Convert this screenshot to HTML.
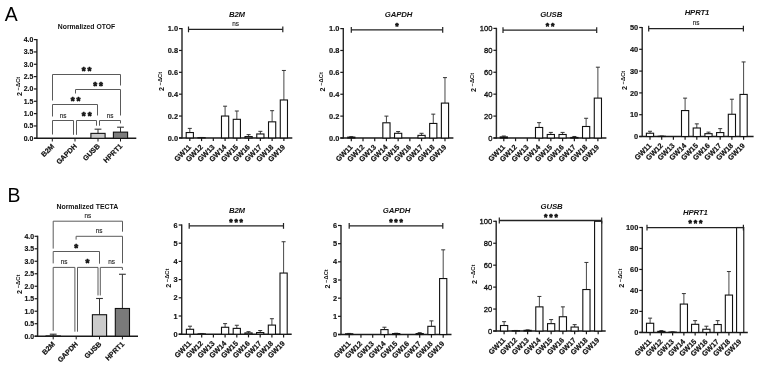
<!DOCTYPE html>
<html><head><meta charset="utf-8"><style>
html,body{margin:0;padding:0;background:#fff;width:757px;height:366px;overflow:hidden}
svg{display:block}
</style></head><body>
<svg width="757" height="366" viewBox="0 0 757 366" font-family='"Liberation Sans", Arial, sans-serif'>
<rect width="757" height="366" fill="#fff"/>
<text x="4.80" y="20.50" font-size="19.4" font-weight="normal" font-style="normal" text-anchor="start" fill="#000" >A</text>
<text x="7.60" y="201.70" font-size="19.4" font-weight="normal" font-style="normal" text-anchor="start" fill="#000" >B</text>
<line x1="182.00" y1="28.00" x2="182.00" y2="138.50" stroke="#2a2a2a" stroke-width="1.45"/>
<line x1="179.00" y1="137.90" x2="182.00" y2="137.90" stroke="#1a1a1a" stroke-width="1.2"/>
<text x="178.00" y="140.50" font-size="7.4" font-weight="bold" font-style="normal" text-anchor="end" fill="#111" stroke="#111" stroke-width="0.15">0.0</text>
<line x1="179.00" y1="116.04" x2="182.00" y2="116.04" stroke="#1a1a1a" stroke-width="1.2"/>
<text x="178.00" y="118.64" font-size="7.4" font-weight="bold" font-style="normal" text-anchor="end" fill="#111" stroke="#111" stroke-width="0.15">0.2</text>
<line x1="179.00" y1="94.18" x2="182.00" y2="94.18" stroke="#1a1a1a" stroke-width="1.2"/>
<text x="178.00" y="96.78" font-size="7.4" font-weight="bold" font-style="normal" text-anchor="end" fill="#111" stroke="#111" stroke-width="0.15">0.4</text>
<line x1="179.00" y1="72.32" x2="182.00" y2="72.32" stroke="#1a1a1a" stroke-width="1.2"/>
<text x="178.00" y="74.92" font-size="7.4" font-weight="bold" font-style="normal" text-anchor="end" fill="#111" stroke="#111" stroke-width="0.15">0.6</text>
<line x1="179.00" y1="50.46" x2="182.00" y2="50.46" stroke="#1a1a1a" stroke-width="1.2"/>
<text x="178.00" y="53.06" font-size="7.4" font-weight="bold" font-style="normal" text-anchor="end" fill="#111" stroke="#111" stroke-width="0.15">0.8</text>
<line x1="179.00" y1="28.60" x2="182.00" y2="28.60" stroke="#1a1a1a" stroke-width="1.2"/>
<text x="178.00" y="31.20" font-size="7.4" font-weight="bold" font-style="normal" text-anchor="end" fill="#111" stroke="#111" stroke-width="0.15">1.0</text>
<line x1="179.00" y1="137.90" x2="292.30" y2="137.90" stroke="#1a1a1a" stroke-width="1.5"/>
<line x1="189.80" y1="137.90" x2="189.80" y2="141.10" stroke="#1a1a1a" stroke-width="1.2"/>
<line x1="189.80" y1="128.39" x2="189.80" y2="132.54" stroke="#333" stroke-width="0.9"/>
<line x1="187.80" y1="128.39" x2="191.80" y2="128.39" stroke="#333" stroke-width="1.0"/>
<rect x="186.20" y="132.54" width="7.20" height="5.36" fill="#fff" stroke="#111" stroke-width="1.1"/>
<text transform="translate(191.60,147.60) rotate(-45)" font-size="7.3" font-weight="bold" text-anchor="end" fill="#111" stroke="#111" stroke-width="0.2">GW11</text>
<line x1="201.56" y1="137.90" x2="201.56" y2="141.10" stroke="#1a1a1a" stroke-width="1.2"/>
<line x1="201.56" y1="137.46" x2="201.56" y2="137.68" stroke="#333" stroke-width="0.9"/>
<line x1="199.56" y1="137.46" x2="203.56" y2="137.46" stroke="#333" stroke-width="1.0"/>
<rect x="197.96" y="137.68" width="7.20" height="0.22" fill="#fff" stroke="#111" stroke-width="1.1"/>
<text transform="translate(203.36,147.60) rotate(-45)" font-size="7.3" font-weight="bold" text-anchor="end" fill="#111" stroke="#111" stroke-width="0.2">GW12</text>
<line x1="213.32" y1="137.90" x2="213.32" y2="141.10" stroke="#1a1a1a" stroke-width="1.2"/>
<text transform="translate(215.12,147.60) rotate(-45)" font-size="7.3" font-weight="bold" text-anchor="end" fill="#111" stroke="#111" stroke-width="0.2">GW13</text>
<line x1="225.08" y1="137.90" x2="225.08" y2="141.10" stroke="#1a1a1a" stroke-width="1.2"/>
<line x1="225.08" y1="106.20" x2="225.08" y2="116.04" stroke="#333" stroke-width="0.9"/>
<line x1="223.08" y1="106.20" x2="227.08" y2="106.20" stroke="#333" stroke-width="1.0"/>
<rect x="221.48" y="116.04" width="7.20" height="21.86" fill="#fff" stroke="#111" stroke-width="1.1"/>
<text transform="translate(226.88,147.60) rotate(-45)" font-size="7.3" font-weight="bold" text-anchor="end" fill="#111" stroke="#111" stroke-width="0.2">GW14</text>
<line x1="236.84" y1="137.90" x2="236.84" y2="141.10" stroke="#1a1a1a" stroke-width="1.2"/>
<line x1="236.84" y1="111.01" x2="236.84" y2="119.32" stroke="#333" stroke-width="0.9"/>
<line x1="234.84" y1="111.01" x2="238.84" y2="111.01" stroke="#333" stroke-width="1.0"/>
<rect x="233.24" y="119.32" width="7.20" height="18.58" fill="#fff" stroke="#111" stroke-width="1.1"/>
<text transform="translate(238.64,147.60) rotate(-45)" font-size="7.3" font-weight="bold" text-anchor="end" fill="#111" stroke="#111" stroke-width="0.2">GW15</text>
<line x1="248.60" y1="137.90" x2="248.60" y2="141.10" stroke="#1a1a1a" stroke-width="1.2"/>
<line x1="248.60" y1="134.62" x2="248.60" y2="136.59" stroke="#333" stroke-width="0.9"/>
<line x1="246.60" y1="134.62" x2="250.60" y2="134.62" stroke="#333" stroke-width="1.0"/>
<rect x="245.00" y="136.59" width="7.20" height="1.31" fill="#fff" stroke="#111" stroke-width="1.1"/>
<text transform="translate(250.40,147.60) rotate(-45)" font-size="7.3" font-weight="bold" text-anchor="end" fill="#111" stroke="#111" stroke-width="0.2">GW16</text>
<line x1="260.36" y1="137.90" x2="260.36" y2="141.10" stroke="#1a1a1a" stroke-width="1.2"/>
<line x1="260.36" y1="131.34" x2="260.36" y2="133.97" stroke="#333" stroke-width="0.9"/>
<line x1="258.36" y1="131.34" x2="262.36" y2="131.34" stroke="#333" stroke-width="1.0"/>
<rect x="256.76" y="133.97" width="7.20" height="3.93" fill="#fff" stroke="#111" stroke-width="1.1"/>
<text transform="translate(262.16,147.60) rotate(-45)" font-size="7.3" font-weight="bold" text-anchor="end" fill="#111" stroke="#111" stroke-width="0.2">GW17</text>
<line x1="272.12" y1="137.90" x2="272.12" y2="141.10" stroke="#1a1a1a" stroke-width="1.2"/>
<line x1="272.12" y1="110.68" x2="272.12" y2="121.83" stroke="#333" stroke-width="0.9"/>
<line x1="270.12" y1="110.68" x2="274.12" y2="110.68" stroke="#333" stroke-width="1.0"/>
<rect x="268.52" y="121.83" width="7.20" height="16.07" fill="#fff" stroke="#111" stroke-width="1.1"/>
<text transform="translate(273.92,147.60) rotate(-45)" font-size="7.3" font-weight="bold" text-anchor="end" fill="#111" stroke="#111" stroke-width="0.2">GW18</text>
<line x1="283.88" y1="137.90" x2="283.88" y2="141.10" stroke="#1a1a1a" stroke-width="1.2"/>
<line x1="283.88" y1="70.46" x2="283.88" y2="99.97" stroke="#333" stroke-width="0.9"/>
<line x1="281.88" y1="70.46" x2="285.88" y2="70.46" stroke="#333" stroke-width="1.0"/>
<rect x="280.28" y="99.97" width="7.20" height="37.93" fill="#fff" stroke="#111" stroke-width="1.1"/>
<text transform="translate(285.68,147.60) rotate(-45)" font-size="7.3" font-weight="bold" text-anchor="end" fill="#111" stroke="#111" stroke-width="0.2">GW19</text>
<line x1="188.50" y1="29.40" x2="282.80" y2="29.40" stroke="#222" stroke-width="1.3"/>
<line x1="188.50" y1="26.50" x2="188.50" y2="32.30" stroke="#222" stroke-width="1.2"/>
<line x1="282.80" y1="26.50" x2="282.80" y2="32.30" stroke="#222" stroke-width="1.2"/>
<text x="235.70" y="26.40" font-size="6.4" font-weight="normal" font-style="normal" text-anchor="middle" fill="#222" stroke="#222" stroke-width="0.12">ns</text>
<text x="236.97" y="16.50" font-size="7.8" font-weight="bold" font-style="italic" text-anchor="middle" fill="#111" letter-spacing="-0.15">B2M</text>
<text transform="translate(164.40,91.10) rotate(-90)" font-size="7.2" font-weight="bold" fill="#111">2<tspan font-size="5.8" dy="-2.0" font-weight="bold"> −ΔCt</tspan></text>
<line x1="343.30" y1="28.00" x2="343.30" y2="138.60" stroke="#2a2a2a" stroke-width="1.45"/>
<line x1="340.30" y1="138.00" x2="343.30" y2="138.00" stroke="#1a1a1a" stroke-width="1.2"/>
<text x="339.30" y="140.60" font-size="7.4" font-weight="bold" font-style="normal" text-anchor="end" fill="#111" stroke="#111" stroke-width="0.15">0.0</text>
<line x1="340.30" y1="116.12" x2="343.30" y2="116.12" stroke="#1a1a1a" stroke-width="1.2"/>
<text x="339.30" y="118.72" font-size="7.4" font-weight="bold" font-style="normal" text-anchor="end" fill="#111" stroke="#111" stroke-width="0.15">0.2</text>
<line x1="340.30" y1="94.24" x2="343.30" y2="94.24" stroke="#1a1a1a" stroke-width="1.2"/>
<text x="339.30" y="96.84" font-size="7.4" font-weight="bold" font-style="normal" text-anchor="end" fill="#111" stroke="#111" stroke-width="0.15">0.4</text>
<line x1="340.30" y1="72.36" x2="343.30" y2="72.36" stroke="#1a1a1a" stroke-width="1.2"/>
<text x="339.30" y="74.96" font-size="7.4" font-weight="bold" font-style="normal" text-anchor="end" fill="#111" stroke="#111" stroke-width="0.15">0.6</text>
<line x1="340.30" y1="50.48" x2="343.30" y2="50.48" stroke="#1a1a1a" stroke-width="1.2"/>
<text x="339.30" y="53.08" font-size="7.4" font-weight="bold" font-style="normal" text-anchor="end" fill="#111" stroke="#111" stroke-width="0.15">0.8</text>
<line x1="340.30" y1="28.60" x2="343.30" y2="28.60" stroke="#1a1a1a" stroke-width="1.2"/>
<text x="339.30" y="31.20" font-size="7.4" font-weight="bold" font-style="normal" text-anchor="end" fill="#111" stroke="#111" stroke-width="0.15">1.0</text>
<line x1="340.30" y1="138.00" x2="453.40" y2="138.00" stroke="#1a1a1a" stroke-width="1.5"/>
<line x1="351.30" y1="138.00" x2="351.30" y2="141.20" stroke="#1a1a1a" stroke-width="1.2"/>
<line x1="351.30" y1="136.69" x2="351.30" y2="137.12" stroke="#333" stroke-width="0.9"/>
<line x1="349.30" y1="136.69" x2="353.30" y2="136.69" stroke="#333" stroke-width="1.0"/>
<rect x="347.70" y="137.12" width="7.20" height="0.88" fill="#fff" stroke="#111" stroke-width="1.1"/>
<text transform="translate(353.10,147.70) rotate(-45)" font-size="7.3" font-weight="bold" text-anchor="end" fill="#111" stroke="#111" stroke-width="0.2">GW11</text>
<line x1="363.01" y1="138.00" x2="363.01" y2="141.20" stroke="#1a1a1a" stroke-width="1.2"/>
<text transform="translate(364.81,147.70) rotate(-45)" font-size="7.3" font-weight="bold" text-anchor="end" fill="#111" stroke="#111" stroke-width="0.2">GW12</text>
<line x1="374.72" y1="138.00" x2="374.72" y2="141.20" stroke="#1a1a1a" stroke-width="1.2"/>
<text transform="translate(376.52,147.70) rotate(-45)" font-size="7.3" font-weight="bold" text-anchor="end" fill="#111" stroke="#111" stroke-width="0.2">GW13</text>
<line x1="386.43" y1="138.00" x2="386.43" y2="141.20" stroke="#1a1a1a" stroke-width="1.2"/>
<line x1="386.43" y1="116.12" x2="386.43" y2="122.79" stroke="#333" stroke-width="0.9"/>
<line x1="384.43" y1="116.12" x2="388.43" y2="116.12" stroke="#333" stroke-width="1.0"/>
<rect x="382.83" y="122.79" width="7.20" height="15.21" fill="#fff" stroke="#111" stroke-width="1.1"/>
<text transform="translate(388.23,147.70) rotate(-45)" font-size="7.3" font-weight="bold" text-anchor="end" fill="#111" stroke="#111" stroke-width="0.2">GW14</text>
<line x1="398.14" y1="138.00" x2="398.14" y2="141.20" stroke="#1a1a1a" stroke-width="1.2"/>
<line x1="398.14" y1="131.55" x2="398.14" y2="133.30" stroke="#333" stroke-width="0.9"/>
<line x1="396.14" y1="131.55" x2="400.14" y2="131.55" stroke="#333" stroke-width="1.0"/>
<rect x="394.54" y="133.30" width="7.20" height="4.70" fill="#fff" stroke="#111" stroke-width="1.1"/>
<text transform="translate(399.94,147.70) rotate(-45)" font-size="7.3" font-weight="bold" text-anchor="end" fill="#111" stroke="#111" stroke-width="0.2">GW15</text>
<line x1="409.85" y1="138.00" x2="409.85" y2="141.20" stroke="#1a1a1a" stroke-width="1.2"/>
<text transform="translate(411.65,147.70) rotate(-45)" font-size="7.3" font-weight="bold" text-anchor="end" fill="#111" stroke="#111" stroke-width="0.2">GW16</text>
<line x1="421.56" y1="138.00" x2="421.56" y2="141.20" stroke="#1a1a1a" stroke-width="1.2"/>
<line x1="421.56" y1="133.30" x2="421.56" y2="135.37" stroke="#333" stroke-width="0.9"/>
<line x1="419.56" y1="133.30" x2="423.56" y2="133.30" stroke="#333" stroke-width="1.0"/>
<rect x="417.96" y="135.37" width="7.20" height="2.63" fill="#fff" stroke="#111" stroke-width="1.1"/>
<text transform="translate(423.36,147.70) rotate(-45)" font-size="7.3" font-weight="bold" text-anchor="end" fill="#111" stroke="#111" stroke-width="0.2">GW17</text>
<line x1="433.27" y1="138.00" x2="433.27" y2="141.20" stroke="#1a1a1a" stroke-width="1.2"/>
<line x1="433.27" y1="114.15" x2="433.27" y2="123.45" stroke="#333" stroke-width="0.9"/>
<line x1="431.27" y1="114.15" x2="435.27" y2="114.15" stroke="#333" stroke-width="1.0"/>
<rect x="429.67" y="123.45" width="7.20" height="14.55" fill="#fff" stroke="#111" stroke-width="1.1"/>
<text transform="translate(435.07,147.70) rotate(-45)" font-size="7.3" font-weight="bold" text-anchor="end" fill="#111" stroke="#111" stroke-width="0.2">GW18</text>
<line x1="444.98" y1="138.00" x2="444.98" y2="141.20" stroke="#1a1a1a" stroke-width="1.2"/>
<line x1="444.98" y1="77.61" x2="444.98" y2="103.10" stroke="#333" stroke-width="0.9"/>
<line x1="442.98" y1="77.61" x2="446.98" y2="77.61" stroke="#333" stroke-width="1.0"/>
<rect x="441.38" y="103.10" width="7.20" height="34.90" fill="#fff" stroke="#111" stroke-width="1.1"/>
<text transform="translate(446.78,147.70) rotate(-45)" font-size="7.3" font-weight="bold" text-anchor="end" fill="#111" stroke="#111" stroke-width="0.2">GW19</text>
<line x1="351.30" y1="29.90" x2="442.70" y2="29.90" stroke="#222" stroke-width="1.3"/>
<line x1="351.30" y1="27.00" x2="351.30" y2="32.80" stroke="#222" stroke-width="1.2"/>
<line x1="442.70" y1="27.00" x2="442.70" y2="32.80" stroke="#222" stroke-width="1.2"/>
<text x="397.90" y="28.87" font-size="8.7" font-weight="bold" font-style="normal" text-anchor="middle" fill="#111" letter-spacing="1.8" stroke="#111" stroke-width="0.6" stroke-linejoin="round">*</text>
<text x="398.57" y="16.50" font-size="7.8" font-weight="bold" font-style="italic" text-anchor="middle" fill="#111" letter-spacing="-0.15">GAPDH</text>
<text transform="translate(325.40,91.40) rotate(-90)" font-size="7.2" font-weight="bold" fill="#111">2<tspan font-size="5.8" dy="-2.0" font-weight="bold"> −ΔCt</tspan></text>
<line x1="496.40" y1="27.80" x2="496.40" y2="138.60" stroke="#2a2a2a" stroke-width="1.45"/>
<line x1="493.40" y1="138.00" x2="496.40" y2="138.00" stroke="#1a1a1a" stroke-width="1.2"/>
<text x="492.40" y="140.67" font-size="7.6000000000000005" font-weight="normal" font-style="normal" text-anchor="end" fill="#111" stroke="#111" stroke-width="0.32">0</text>
<line x1="493.40" y1="116.08" x2="496.40" y2="116.08" stroke="#1a1a1a" stroke-width="1.2"/>
<text x="492.40" y="118.75" font-size="7.6000000000000005" font-weight="normal" font-style="normal" text-anchor="end" fill="#111" stroke="#111" stroke-width="0.32">20</text>
<line x1="493.40" y1="94.16" x2="496.40" y2="94.16" stroke="#1a1a1a" stroke-width="1.2"/>
<text x="492.40" y="96.83" font-size="7.6000000000000005" font-weight="normal" font-style="normal" text-anchor="end" fill="#111" stroke="#111" stroke-width="0.32">40</text>
<line x1="493.40" y1="72.24" x2="496.40" y2="72.24" stroke="#1a1a1a" stroke-width="1.2"/>
<text x="492.40" y="74.91" font-size="7.6000000000000005" font-weight="normal" font-style="normal" text-anchor="end" fill="#111" stroke="#111" stroke-width="0.32">60</text>
<line x1="493.40" y1="50.32" x2="496.40" y2="50.32" stroke="#1a1a1a" stroke-width="1.2"/>
<text x="492.40" y="52.99" font-size="7.6000000000000005" font-weight="normal" font-style="normal" text-anchor="end" fill="#111" stroke="#111" stroke-width="0.32">80</text>
<line x1="493.40" y1="28.40" x2="496.40" y2="28.40" stroke="#1a1a1a" stroke-width="1.2"/>
<text x="492.40" y="31.07" font-size="7.6000000000000005" font-weight="normal" font-style="normal" text-anchor="end" fill="#111" stroke="#111" stroke-width="0.32">100</text>
<line x1="493.40" y1="138.00" x2="606.40" y2="138.00" stroke="#1a1a1a" stroke-width="1.5"/>
<line x1="503.80" y1="138.00" x2="503.80" y2="141.20" stroke="#1a1a1a" stroke-width="1.2"/>
<line x1="503.80" y1="136.03" x2="503.80" y2="136.90" stroke="#333" stroke-width="0.9"/>
<line x1="501.80" y1="136.03" x2="505.80" y2="136.03" stroke="#333" stroke-width="1.0"/>
<rect x="500.20" y="136.90" width="7.20" height="1.10" fill="#fff" stroke="#111" stroke-width="1.1"/>
<text transform="translate(505.60,147.70) rotate(-45)" font-size="7.3" font-weight="bold" text-anchor="end" fill="#111" stroke="#111" stroke-width="0.2">GW11</text>
<line x1="515.56" y1="138.00" x2="515.56" y2="141.20" stroke="#1a1a1a" stroke-width="1.2"/>
<text transform="translate(517.36,147.70) rotate(-45)" font-size="7.3" font-weight="bold" text-anchor="end" fill="#111" stroke="#111" stroke-width="0.2">GW12</text>
<line x1="527.32" y1="138.00" x2="527.32" y2="141.20" stroke="#1a1a1a" stroke-width="1.2"/>
<text transform="translate(529.12,147.70) rotate(-45)" font-size="7.3" font-weight="bold" text-anchor="end" fill="#111" stroke="#111" stroke-width="0.2">GW13</text>
<line x1="539.08" y1="138.00" x2="539.08" y2="141.20" stroke="#1a1a1a" stroke-width="1.2"/>
<line x1="539.08" y1="122.66" x2="539.08" y2="127.48" stroke="#333" stroke-width="0.9"/>
<line x1="537.08" y1="122.66" x2="541.08" y2="122.66" stroke="#333" stroke-width="1.0"/>
<rect x="535.48" y="127.48" width="7.20" height="10.52" fill="#fff" stroke="#111" stroke-width="1.1"/>
<text transform="translate(540.88,147.70) rotate(-45)" font-size="7.3" font-weight="bold" text-anchor="end" fill="#111" stroke="#111" stroke-width="0.2">GW14</text>
<line x1="550.84" y1="138.00" x2="550.84" y2="141.20" stroke="#1a1a1a" stroke-width="1.2"/>
<line x1="550.84" y1="132.41" x2="550.84" y2="134.49" stroke="#333" stroke-width="0.9"/>
<line x1="548.84" y1="132.41" x2="552.84" y2="132.41" stroke="#333" stroke-width="1.0"/>
<rect x="547.24" y="134.49" width="7.20" height="3.51" fill="#fff" stroke="#111" stroke-width="1.1"/>
<text transform="translate(552.64,147.70) rotate(-45)" font-size="7.3" font-weight="bold" text-anchor="end" fill="#111" stroke="#111" stroke-width="0.2">GW15</text>
<line x1="562.60" y1="138.00" x2="562.60" y2="141.20" stroke="#1a1a1a" stroke-width="1.2"/>
<line x1="562.60" y1="132.41" x2="562.60" y2="134.49" stroke="#333" stroke-width="0.9"/>
<line x1="560.60" y1="132.41" x2="564.60" y2="132.41" stroke="#333" stroke-width="1.0"/>
<rect x="559.00" y="134.49" width="7.20" height="3.51" fill="#fff" stroke="#111" stroke-width="1.1"/>
<text transform="translate(564.40,147.70) rotate(-45)" font-size="7.3" font-weight="bold" text-anchor="end" fill="#111" stroke="#111" stroke-width="0.2">GW16</text>
<line x1="574.36" y1="138.00" x2="574.36" y2="141.20" stroke="#1a1a1a" stroke-width="1.2"/>
<line x1="574.36" y1="136.47" x2="574.36" y2="137.45" stroke="#333" stroke-width="0.9"/>
<line x1="572.36" y1="136.47" x2="576.36" y2="136.47" stroke="#333" stroke-width="1.0"/>
<rect x="570.76" y="137.45" width="7.20" height="0.55" fill="#fff" stroke="#111" stroke-width="1.1"/>
<text transform="translate(576.16,147.70) rotate(-45)" font-size="7.3" font-weight="bold" text-anchor="end" fill="#111" stroke="#111" stroke-width="0.2">GW17</text>
<line x1="586.12" y1="138.00" x2="586.12" y2="141.20" stroke="#1a1a1a" stroke-width="1.2"/>
<line x1="586.12" y1="118.27" x2="586.12" y2="126.49" stroke="#333" stroke-width="0.9"/>
<line x1="584.12" y1="118.27" x2="588.12" y2="118.27" stroke="#333" stroke-width="1.0"/>
<rect x="582.52" y="126.49" width="7.20" height="11.51" fill="#fff" stroke="#111" stroke-width="1.1"/>
<text transform="translate(587.92,147.70) rotate(-45)" font-size="7.3" font-weight="bold" text-anchor="end" fill="#111" stroke="#111" stroke-width="0.2">GW18</text>
<line x1="597.88" y1="138.00" x2="597.88" y2="141.20" stroke="#1a1a1a" stroke-width="1.2"/>
<line x1="597.88" y1="67.20" x2="597.88" y2="98.11" stroke="#333" stroke-width="0.9"/>
<line x1="595.88" y1="67.20" x2="599.88" y2="67.20" stroke="#333" stroke-width="1.0"/>
<rect x="594.28" y="98.11" width="7.20" height="39.89" fill="#fff" stroke="#111" stroke-width="1.1"/>
<text transform="translate(599.68,147.70) rotate(-45)" font-size="7.3" font-weight="bold" text-anchor="end" fill="#111" stroke="#111" stroke-width="0.2">GW19</text>
<line x1="503.00" y1="30.20" x2="596.70" y2="30.20" stroke="#222" stroke-width="1.3"/>
<line x1="503.00" y1="27.30" x2="503.00" y2="33.10" stroke="#222" stroke-width="1.2"/>
<line x1="596.70" y1="27.30" x2="596.70" y2="33.10" stroke="#222" stroke-width="1.2"/>
<text x="551.00" y="28.57" font-size="8.7" font-weight="bold" font-style="normal" text-anchor="middle" fill="#111" letter-spacing="1.8" stroke="#111" stroke-width="0.6" stroke-linejoin="round">**</text>
<text x="551.18" y="16.50" font-size="7.8" font-weight="bold" font-style="italic" text-anchor="middle" fill="#111" letter-spacing="-0.15">GUSB</text>
<text transform="translate(476.20,92.10) rotate(-90)" font-size="7.2" font-weight="bold" fill="#111">2<tspan font-size="5.8" dy="-2.0" font-weight="bold"> −ΔCt</tspan></text>
<line x1="642.20" y1="26.90" x2="642.20" y2="137.10" stroke="#2a2a2a" stroke-width="1.45"/>
<line x1="639.20" y1="136.50" x2="642.20" y2="136.50" stroke="#1a1a1a" stroke-width="1.2"/>
<text x="638.20" y="139.10" font-size="7.4" font-weight="bold" font-style="normal" text-anchor="end" fill="#111" stroke="#111" stroke-width="0.15">0</text>
<line x1="639.20" y1="114.70" x2="642.20" y2="114.70" stroke="#1a1a1a" stroke-width="1.2"/>
<text x="638.20" y="117.30" font-size="7.4" font-weight="bold" font-style="normal" text-anchor="end" fill="#111" stroke="#111" stroke-width="0.15">10</text>
<line x1="639.20" y1="92.90" x2="642.20" y2="92.90" stroke="#1a1a1a" stroke-width="1.2"/>
<text x="638.20" y="95.50" font-size="7.4" font-weight="bold" font-style="normal" text-anchor="end" fill="#111" stroke="#111" stroke-width="0.15">20</text>
<line x1="639.20" y1="71.10" x2="642.20" y2="71.10" stroke="#1a1a1a" stroke-width="1.2"/>
<text x="638.20" y="73.70" font-size="7.4" font-weight="bold" font-style="normal" text-anchor="end" fill="#111" stroke="#111" stroke-width="0.15">30</text>
<line x1="639.20" y1="49.30" x2="642.20" y2="49.30" stroke="#1a1a1a" stroke-width="1.2"/>
<text x="638.20" y="51.90" font-size="7.4" font-weight="bold" font-style="normal" text-anchor="end" fill="#111" stroke="#111" stroke-width="0.15">40</text>
<line x1="639.20" y1="27.50" x2="642.20" y2="27.50" stroke="#1a1a1a" stroke-width="1.2"/>
<text x="638.20" y="30.10" font-size="7.4" font-weight="bold" font-style="normal" text-anchor="end" fill="#111" stroke="#111" stroke-width="0.15">50</text>
<line x1="639.20" y1="136.50" x2="753.60" y2="136.50" stroke="#1a1a1a" stroke-width="1.5"/>
<line x1="650.00" y1="136.50" x2="650.00" y2="139.70" stroke="#1a1a1a" stroke-width="1.2"/>
<line x1="650.00" y1="131.27" x2="650.00" y2="133.23" stroke="#333" stroke-width="0.9"/>
<line x1="648.00" y1="131.27" x2="652.00" y2="131.27" stroke="#333" stroke-width="1.0"/>
<rect x="646.40" y="133.23" width="7.20" height="3.27" fill="#fff" stroke="#111" stroke-width="1.1"/>
<text transform="translate(651.80,146.20) rotate(-45)" font-size="7.3" font-weight="bold" text-anchor="end" fill="#111" stroke="#111" stroke-width="0.2">GW11</text>
<line x1="661.70" y1="136.50" x2="661.70" y2="139.70" stroke="#1a1a1a" stroke-width="1.2"/>
<line x1="661.70" y1="136.06" x2="661.70" y2="136.28" stroke="#333" stroke-width="0.9"/>
<line x1="659.70" y1="136.06" x2="663.70" y2="136.06" stroke="#333" stroke-width="1.0"/>
<rect x="658.10" y="136.28" width="7.20" height="0.22" fill="#fff" stroke="#111" stroke-width="1.1"/>
<text transform="translate(663.50,146.20) rotate(-45)" font-size="7.3" font-weight="bold" text-anchor="end" fill="#111" stroke="#111" stroke-width="0.2">GW12</text>
<line x1="673.40" y1="136.50" x2="673.40" y2="139.70" stroke="#1a1a1a" stroke-width="1.2"/>
<text transform="translate(675.20,146.20) rotate(-45)" font-size="7.3" font-weight="bold" text-anchor="end" fill="#111" stroke="#111" stroke-width="0.2">GW13</text>
<line x1="685.10" y1="136.50" x2="685.10" y2="139.70" stroke="#1a1a1a" stroke-width="1.2"/>
<line x1="685.10" y1="98.13" x2="685.10" y2="110.56" stroke="#333" stroke-width="0.9"/>
<line x1="683.10" y1="98.13" x2="687.10" y2="98.13" stroke="#333" stroke-width="1.0"/>
<rect x="681.50" y="110.56" width="7.20" height="25.94" fill="#fff" stroke="#111" stroke-width="1.1"/>
<text transform="translate(686.90,146.20) rotate(-45)" font-size="7.3" font-weight="bold" text-anchor="end" fill="#111" stroke="#111" stroke-width="0.2">GW14</text>
<line x1="696.80" y1="136.50" x2="696.80" y2="139.70" stroke="#1a1a1a" stroke-width="1.2"/>
<line x1="696.80" y1="123.86" x2="696.80" y2="128.00" stroke="#333" stroke-width="0.9"/>
<line x1="694.80" y1="123.86" x2="698.80" y2="123.86" stroke="#333" stroke-width="1.0"/>
<rect x="693.20" y="128.00" width="7.20" height="8.50" fill="#fff" stroke="#111" stroke-width="1.1"/>
<text transform="translate(698.60,146.20) rotate(-45)" font-size="7.3" font-weight="bold" text-anchor="end" fill="#111" stroke="#111" stroke-width="0.2">GW15</text>
<line x1="708.50" y1="136.50" x2="708.50" y2="139.70" stroke="#1a1a1a" stroke-width="1.2"/>
<line x1="708.50" y1="132.14" x2="708.50" y2="133.67" stroke="#333" stroke-width="0.9"/>
<line x1="706.50" y1="132.14" x2="710.50" y2="132.14" stroke="#333" stroke-width="1.0"/>
<rect x="704.90" y="133.67" width="7.20" height="2.83" fill="#fff" stroke="#111" stroke-width="1.1"/>
<text transform="translate(710.30,146.20) rotate(-45)" font-size="7.3" font-weight="bold" text-anchor="end" fill="#111" stroke="#111" stroke-width="0.2">GW16</text>
<line x1="720.20" y1="136.50" x2="720.20" y2="139.70" stroke="#1a1a1a" stroke-width="1.2"/>
<line x1="720.20" y1="128.65" x2="720.20" y2="132.58" stroke="#333" stroke-width="0.9"/>
<line x1="718.20" y1="128.65" x2="722.20" y2="128.65" stroke="#333" stroke-width="1.0"/>
<rect x="716.60" y="132.58" width="7.20" height="3.92" fill="#fff" stroke="#111" stroke-width="1.1"/>
<text transform="translate(722.00,146.20) rotate(-45)" font-size="7.3" font-weight="bold" text-anchor="end" fill="#111" stroke="#111" stroke-width="0.2">GW17</text>
<line x1="731.90" y1="136.50" x2="731.90" y2="139.70" stroke="#1a1a1a" stroke-width="1.2"/>
<line x1="731.90" y1="99.22" x2="731.90" y2="114.26" stroke="#333" stroke-width="0.9"/>
<line x1="729.90" y1="99.22" x2="733.90" y2="99.22" stroke="#333" stroke-width="1.0"/>
<rect x="728.30" y="114.26" width="7.20" height="22.24" fill="#fff" stroke="#111" stroke-width="1.1"/>
<text transform="translate(733.70,146.20) rotate(-45)" font-size="7.3" font-weight="bold" text-anchor="end" fill="#111" stroke="#111" stroke-width="0.2">GW18</text>
<line x1="743.60" y1="136.50" x2="743.60" y2="139.70" stroke="#1a1a1a" stroke-width="1.2"/>
<line x1="743.60" y1="61.94" x2="743.60" y2="94.43" stroke="#333" stroke-width="0.9"/>
<line x1="741.60" y1="61.94" x2="745.60" y2="61.94" stroke="#333" stroke-width="1.0"/>
<rect x="740.00" y="94.43" width="7.20" height="42.07" fill="#fff" stroke="#111" stroke-width="1.1"/>
<text transform="translate(745.40,146.20) rotate(-45)" font-size="7.3" font-weight="bold" text-anchor="end" fill="#111" stroke="#111" stroke-width="0.2">GW19</text>
<line x1="648.70" y1="28.60" x2="743.40" y2="28.60" stroke="#222" stroke-width="1.3"/>
<line x1="648.70" y1="25.70" x2="648.70" y2="31.50" stroke="#222" stroke-width="1.2"/>
<line x1="743.40" y1="25.70" x2="743.40" y2="31.50" stroke="#222" stroke-width="1.2"/>
<text x="696.00" y="25.40" font-size="6.4" font-weight="normal" font-style="normal" text-anchor="middle" fill="#222" stroke="#222" stroke-width="0.12">ns</text>
<text x="696.98" y="15.20" font-size="7.8" font-weight="bold" font-style="italic" text-anchor="middle" fill="#111" letter-spacing="-0.15">HPRT1</text>
<text transform="translate(626.60,90.00) rotate(-90)" font-size="7.2" font-weight="bold" fill="#111">2<tspan font-size="5.8" dy="-2.0" font-weight="bold"> −ΔCt</tspan></text>
<line x1="181.70" y1="224.40" x2="181.70" y2="334.80" stroke="#2a2a2a" stroke-width="1.45"/>
<line x1="178.70" y1="334.20" x2="181.70" y2="334.20" stroke="#1a1a1a" stroke-width="1.2"/>
<text x="177.70" y="336.80" font-size="7.4" font-weight="bold" font-style="normal" text-anchor="end" fill="#111" stroke="#111" stroke-width="0.15">0</text>
<line x1="178.70" y1="316.00" x2="181.70" y2="316.00" stroke="#1a1a1a" stroke-width="1.2"/>
<text x="177.70" y="318.60" font-size="7.4" font-weight="bold" font-style="normal" text-anchor="end" fill="#111" stroke="#111" stroke-width="0.15">1</text>
<line x1="178.70" y1="297.80" x2="181.70" y2="297.80" stroke="#1a1a1a" stroke-width="1.2"/>
<text x="177.70" y="300.40" font-size="7.4" font-weight="bold" font-style="normal" text-anchor="end" fill="#111" stroke="#111" stroke-width="0.15">2</text>
<line x1="178.70" y1="279.60" x2="181.70" y2="279.60" stroke="#1a1a1a" stroke-width="1.2"/>
<text x="177.70" y="282.20" font-size="7.4" font-weight="bold" font-style="normal" text-anchor="end" fill="#111" stroke="#111" stroke-width="0.15">3</text>
<line x1="178.70" y1="261.40" x2="181.70" y2="261.40" stroke="#1a1a1a" stroke-width="1.2"/>
<text x="177.70" y="264.00" font-size="7.4" font-weight="bold" font-style="normal" text-anchor="end" fill="#111" stroke="#111" stroke-width="0.15">4</text>
<line x1="178.70" y1="243.20" x2="181.70" y2="243.20" stroke="#1a1a1a" stroke-width="1.2"/>
<text x="177.70" y="245.80" font-size="7.4" font-weight="bold" font-style="normal" text-anchor="end" fill="#111" stroke="#111" stroke-width="0.15">5</text>
<line x1="178.70" y1="225.00" x2="181.70" y2="225.00" stroke="#1a1a1a" stroke-width="1.2"/>
<text x="177.70" y="227.60" font-size="7.4" font-weight="bold" font-style="normal" text-anchor="end" fill="#111" stroke="#111" stroke-width="0.15">6</text>
<line x1="178.70" y1="334.20" x2="291.70" y2="334.20" stroke="#1a1a1a" stroke-width="1.5"/>
<line x1="190.00" y1="334.20" x2="190.00" y2="337.40" stroke="#1a1a1a" stroke-width="1.2"/>
<line x1="190.00" y1="326.19" x2="190.00" y2="329.29" stroke="#333" stroke-width="0.9"/>
<line x1="188.00" y1="326.19" x2="192.00" y2="326.19" stroke="#333" stroke-width="1.0"/>
<rect x="186.40" y="329.29" width="7.20" height="4.91" fill="#fff" stroke="#111" stroke-width="1.1"/>
<text transform="translate(191.80,343.90) rotate(-45)" font-size="7.3" font-weight="bold" text-anchor="end" fill="#111" stroke="#111" stroke-width="0.2">GW11</text>
<line x1="201.70" y1="334.20" x2="201.70" y2="337.40" stroke="#1a1a1a" stroke-width="1.2"/>
<line x1="201.70" y1="333.47" x2="201.70" y2="333.84" stroke="#333" stroke-width="0.9"/>
<line x1="199.70" y1="333.47" x2="203.70" y2="333.47" stroke="#333" stroke-width="1.0"/>
<rect x="198.10" y="333.84" width="7.20" height="0.36" fill="#fff" stroke="#111" stroke-width="1.1"/>
<text transform="translate(203.50,343.90) rotate(-45)" font-size="7.3" font-weight="bold" text-anchor="end" fill="#111" stroke="#111" stroke-width="0.2">GW12</text>
<line x1="213.40" y1="334.20" x2="213.40" y2="337.40" stroke="#1a1a1a" stroke-width="1.2"/>
<text transform="translate(215.20,343.90) rotate(-45)" font-size="7.3" font-weight="bold" text-anchor="end" fill="#111" stroke="#111" stroke-width="0.2">GW13</text>
<line x1="225.10" y1="334.20" x2="225.10" y2="337.40" stroke="#1a1a1a" stroke-width="1.2"/>
<line x1="225.10" y1="323.64" x2="225.10" y2="327.28" stroke="#333" stroke-width="0.9"/>
<line x1="223.10" y1="323.64" x2="227.10" y2="323.64" stroke="#333" stroke-width="1.0"/>
<rect x="221.50" y="327.28" width="7.20" height="6.92" fill="#fff" stroke="#111" stroke-width="1.1"/>
<text transform="translate(226.90,343.90) rotate(-45)" font-size="7.3" font-weight="bold" text-anchor="end" fill="#111" stroke="#111" stroke-width="0.2">GW14</text>
<line x1="236.80" y1="334.20" x2="236.80" y2="337.40" stroke="#1a1a1a" stroke-width="1.2"/>
<line x1="236.80" y1="325.28" x2="236.80" y2="328.38" stroke="#333" stroke-width="0.9"/>
<line x1="234.80" y1="325.28" x2="238.80" y2="325.28" stroke="#333" stroke-width="1.0"/>
<rect x="233.20" y="328.38" width="7.20" height="5.82" fill="#fff" stroke="#111" stroke-width="1.1"/>
<text transform="translate(238.60,343.90) rotate(-45)" font-size="7.3" font-weight="bold" text-anchor="end" fill="#111" stroke="#111" stroke-width="0.2">GW15</text>
<line x1="248.50" y1="334.20" x2="248.50" y2="337.40" stroke="#1a1a1a" stroke-width="1.2"/>
<line x1="248.50" y1="331.65" x2="248.50" y2="332.93" stroke="#333" stroke-width="0.9"/>
<line x1="246.50" y1="331.65" x2="250.50" y2="331.65" stroke="#333" stroke-width="1.0"/>
<rect x="244.90" y="332.93" width="7.20" height="1.27" fill="#fff" stroke="#111" stroke-width="1.1"/>
<text transform="translate(250.30,343.90) rotate(-45)" font-size="7.3" font-weight="bold" text-anchor="end" fill="#111" stroke="#111" stroke-width="0.2">GW16</text>
<line x1="260.20" y1="334.20" x2="260.20" y2="337.40" stroke="#1a1a1a" stroke-width="1.2"/>
<line x1="260.20" y1="330.56" x2="260.20" y2="332.56" stroke="#333" stroke-width="0.9"/>
<line x1="258.20" y1="330.56" x2="262.20" y2="330.56" stroke="#333" stroke-width="1.0"/>
<rect x="256.60" y="332.56" width="7.20" height="1.64" fill="#fff" stroke="#111" stroke-width="1.1"/>
<text transform="translate(262.00,343.90) rotate(-45)" font-size="7.3" font-weight="bold" text-anchor="end" fill="#111" stroke="#111" stroke-width="0.2">GW17</text>
<line x1="271.90" y1="334.20" x2="271.90" y2="337.40" stroke="#1a1a1a" stroke-width="1.2"/>
<line x1="271.90" y1="318.73" x2="271.90" y2="325.10" stroke="#333" stroke-width="0.9"/>
<line x1="269.90" y1="318.73" x2="273.90" y2="318.73" stroke="#333" stroke-width="1.0"/>
<rect x="268.30" y="325.10" width="7.20" height="9.10" fill="#fff" stroke="#111" stroke-width="1.1"/>
<text transform="translate(273.70,343.90) rotate(-45)" font-size="7.3" font-weight="bold" text-anchor="end" fill="#111" stroke="#111" stroke-width="0.2">GW18</text>
<line x1="283.60" y1="334.20" x2="283.60" y2="337.40" stroke="#1a1a1a" stroke-width="1.2"/>
<line x1="283.60" y1="241.74" x2="283.60" y2="273.05" stroke="#333" stroke-width="0.9"/>
<line x1="281.60" y1="241.74" x2="285.60" y2="241.74" stroke="#333" stroke-width="1.0"/>
<rect x="280.00" y="273.05" width="7.20" height="61.15" fill="#fff" stroke="#111" stroke-width="1.1"/>
<text transform="translate(285.40,343.90) rotate(-45)" font-size="7.3" font-weight="bold" text-anchor="end" fill="#111" stroke="#111" stroke-width="0.2">GW19</text>
<line x1="189.20" y1="225.90" x2="283.50" y2="225.90" stroke="#222" stroke-width="1.3"/>
<line x1="189.20" y1="223.00" x2="189.20" y2="228.80" stroke="#222" stroke-width="1.2"/>
<line x1="283.50" y1="223.00" x2="283.50" y2="228.80" stroke="#222" stroke-width="1.2"/>
<text x="237.00" y="225.02" font-size="8.7" font-weight="bold" font-style="normal" text-anchor="middle" fill="#111" letter-spacing="1.8" stroke="#111" stroke-width="0.6" stroke-linejoin="round">***</text>
<text x="236.97" y="212.50" font-size="7.8" font-weight="bold" font-style="italic" text-anchor="middle" fill="#111" letter-spacing="-0.15">B2M</text>
<text transform="translate(171.30,287.80) rotate(-90)" font-size="7.2" font-weight="bold" fill="#111">2<tspan font-size="5.8" dy="-2.0" font-weight="bold"> −ΔCt</tspan></text>
<line x1="341.00" y1="224.90" x2="341.00" y2="335.10" stroke="#2a2a2a" stroke-width="1.45"/>
<line x1="338.00" y1="334.50" x2="341.00" y2="334.50" stroke="#1a1a1a" stroke-width="1.2"/>
<text x="337.00" y="337.10" font-size="7.4" font-weight="bold" font-style="normal" text-anchor="end" fill="#111" stroke="#111" stroke-width="0.15">0</text>
<line x1="338.00" y1="316.33" x2="341.00" y2="316.33" stroke="#1a1a1a" stroke-width="1.2"/>
<text x="337.00" y="318.93" font-size="7.4" font-weight="bold" font-style="normal" text-anchor="end" fill="#111" stroke="#111" stroke-width="0.15">1</text>
<line x1="338.00" y1="298.17" x2="341.00" y2="298.17" stroke="#1a1a1a" stroke-width="1.2"/>
<text x="337.00" y="300.77" font-size="7.4" font-weight="bold" font-style="normal" text-anchor="end" fill="#111" stroke="#111" stroke-width="0.15">2</text>
<line x1="338.00" y1="280.00" x2="341.00" y2="280.00" stroke="#1a1a1a" stroke-width="1.2"/>
<text x="337.00" y="282.60" font-size="7.4" font-weight="bold" font-style="normal" text-anchor="end" fill="#111" stroke="#111" stroke-width="0.15">3</text>
<line x1="338.00" y1="261.83" x2="341.00" y2="261.83" stroke="#1a1a1a" stroke-width="1.2"/>
<text x="337.00" y="264.43" font-size="7.4" font-weight="bold" font-style="normal" text-anchor="end" fill="#111" stroke="#111" stroke-width="0.15">4</text>
<line x1="338.00" y1="243.67" x2="341.00" y2="243.67" stroke="#1a1a1a" stroke-width="1.2"/>
<text x="337.00" y="246.27" font-size="7.4" font-weight="bold" font-style="normal" text-anchor="end" fill="#111" stroke="#111" stroke-width="0.15">5</text>
<line x1="338.00" y1="225.50" x2="341.00" y2="225.50" stroke="#1a1a1a" stroke-width="1.2"/>
<text x="337.00" y="228.10" font-size="7.4" font-weight="bold" font-style="normal" text-anchor="end" fill="#111" stroke="#111" stroke-width="0.15">6</text>
<line x1="338.00" y1="334.50" x2="451.50" y2="334.50" stroke="#1a1a1a" stroke-width="1.5"/>
<line x1="349.20" y1="334.50" x2="349.20" y2="337.70" stroke="#1a1a1a" stroke-width="1.2"/>
<line x1="349.20" y1="333.41" x2="349.20" y2="333.77" stroke="#333" stroke-width="0.9"/>
<line x1="347.20" y1="333.41" x2="351.20" y2="333.41" stroke="#333" stroke-width="1.0"/>
<rect x="345.60" y="333.77" width="7.20" height="0.73" fill="#fff" stroke="#111" stroke-width="1.1"/>
<text transform="translate(351.00,344.20) rotate(-45)" font-size="7.3" font-weight="bold" text-anchor="end" fill="#111" stroke="#111" stroke-width="0.2">GW11</text>
<line x1="360.95" y1="334.50" x2="360.95" y2="337.70" stroke="#1a1a1a" stroke-width="1.2"/>
<text transform="translate(362.75,344.20) rotate(-45)" font-size="7.3" font-weight="bold" text-anchor="end" fill="#111" stroke="#111" stroke-width="0.2">GW12</text>
<line x1="372.70" y1="334.50" x2="372.70" y2="337.70" stroke="#1a1a1a" stroke-width="1.2"/>
<text transform="translate(374.50,344.20) rotate(-45)" font-size="7.3" font-weight="bold" text-anchor="end" fill="#111" stroke="#111" stroke-width="0.2">GW13</text>
<line x1="384.45" y1="334.50" x2="384.45" y2="337.70" stroke="#1a1a1a" stroke-width="1.2"/>
<line x1="384.45" y1="327.23" x2="384.45" y2="329.60" stroke="#333" stroke-width="0.9"/>
<line x1="382.45" y1="327.23" x2="386.45" y2="327.23" stroke="#333" stroke-width="1.0"/>
<rect x="380.85" y="329.60" width="7.20" height="4.90" fill="#fff" stroke="#111" stroke-width="1.1"/>
<text transform="translate(386.25,344.20) rotate(-45)" font-size="7.3" font-weight="bold" text-anchor="end" fill="#111" stroke="#111" stroke-width="0.2">GW14</text>
<line x1="396.20" y1="334.50" x2="396.20" y2="337.70" stroke="#1a1a1a" stroke-width="1.2"/>
<line x1="396.20" y1="333.23" x2="396.20" y2="333.59" stroke="#333" stroke-width="0.9"/>
<line x1="394.20" y1="333.23" x2="398.20" y2="333.23" stroke="#333" stroke-width="1.0"/>
<rect x="392.60" y="333.59" width="7.20" height="0.91" fill="#fff" stroke="#111" stroke-width="1.1"/>
<text transform="translate(398.00,344.20) rotate(-45)" font-size="7.3" font-weight="bold" text-anchor="end" fill="#111" stroke="#111" stroke-width="0.2">GW15</text>
<line x1="407.95" y1="334.50" x2="407.95" y2="337.70" stroke="#1a1a1a" stroke-width="1.2"/>
<text transform="translate(409.75,344.20) rotate(-45)" font-size="7.3" font-weight="bold" text-anchor="end" fill="#111" stroke="#111" stroke-width="0.2">GW16</text>
<line x1="419.70" y1="334.50" x2="419.70" y2="337.70" stroke="#1a1a1a" stroke-width="1.2"/>
<line x1="419.70" y1="332.68" x2="419.70" y2="333.59" stroke="#333" stroke-width="0.9"/>
<line x1="417.70" y1="332.68" x2="421.70" y2="332.68" stroke="#333" stroke-width="1.0"/>
<rect x="416.10" y="333.59" width="7.20" height="0.91" fill="#fff" stroke="#111" stroke-width="1.1"/>
<text transform="translate(421.50,344.20) rotate(-45)" font-size="7.3" font-weight="bold" text-anchor="end" fill="#111" stroke="#111" stroke-width="0.2">GW17</text>
<line x1="431.45" y1="334.50" x2="431.45" y2="337.70" stroke="#1a1a1a" stroke-width="1.2"/>
<line x1="431.45" y1="320.88" x2="431.45" y2="326.32" stroke="#333" stroke-width="0.9"/>
<line x1="429.45" y1="320.88" x2="433.45" y2="320.88" stroke="#333" stroke-width="1.0"/>
<rect x="427.85" y="326.32" width="7.20" height="8.18" fill="#fff" stroke="#111" stroke-width="1.1"/>
<text transform="translate(433.25,344.20) rotate(-45)" font-size="7.3" font-weight="bold" text-anchor="end" fill="#111" stroke="#111" stroke-width="0.2">GW18</text>
<line x1="443.20" y1="334.50" x2="443.20" y2="337.70" stroke="#1a1a1a" stroke-width="1.2"/>
<line x1="443.20" y1="249.84" x2="443.20" y2="278.55" stroke="#333" stroke-width="0.9"/>
<line x1="441.20" y1="249.84" x2="445.20" y2="249.84" stroke="#333" stroke-width="1.0"/>
<rect x="439.60" y="278.55" width="7.20" height="55.95" fill="#fff" stroke="#111" stroke-width="1.1"/>
<text transform="translate(445.00,344.20) rotate(-45)" font-size="7.3" font-weight="bold" text-anchor="end" fill="#111" stroke="#111" stroke-width="0.2">GW19</text>
<line x1="349.20" y1="225.80" x2="442.80" y2="225.80" stroke="#222" stroke-width="1.3"/>
<line x1="349.20" y1="222.90" x2="349.20" y2="228.70" stroke="#222" stroke-width="1.2"/>
<line x1="442.80" y1="222.90" x2="442.80" y2="228.70" stroke="#222" stroke-width="1.2"/>
<text x="396.90" y="224.87" font-size="8.7" font-weight="bold" font-style="normal" text-anchor="middle" fill="#111" letter-spacing="1.8" stroke="#111" stroke-width="0.6" stroke-linejoin="round">***</text>
<text x="396.57" y="212.70" font-size="7.8" font-weight="bold" font-style="italic" text-anchor="middle" fill="#111" letter-spacing="-0.15">GAPDH</text>
<text transform="translate(330.00,288.50) rotate(-90)" font-size="7.2" font-weight="bold" fill="#111">2<tspan font-size="5.8" dy="-2.0" font-weight="bold"> −ΔCt</tspan></text>
<line x1="496.20" y1="220.70" x2="496.20" y2="331.60" stroke="#2a2a2a" stroke-width="1.45"/>
<line x1="493.20" y1="331.00" x2="496.20" y2="331.00" stroke="#1a1a1a" stroke-width="1.2"/>
<text x="492.20" y="333.67" font-size="7.6000000000000005" font-weight="normal" font-style="normal" text-anchor="end" fill="#111" stroke="#111" stroke-width="0.32">0</text>
<line x1="493.20" y1="309.06" x2="496.20" y2="309.06" stroke="#1a1a1a" stroke-width="1.2"/>
<text x="492.20" y="311.73" font-size="7.6000000000000005" font-weight="normal" font-style="normal" text-anchor="end" fill="#111" stroke="#111" stroke-width="0.32">20</text>
<line x1="493.20" y1="287.12" x2="496.20" y2="287.12" stroke="#1a1a1a" stroke-width="1.2"/>
<text x="492.20" y="289.79" font-size="7.6000000000000005" font-weight="normal" font-style="normal" text-anchor="end" fill="#111" stroke="#111" stroke-width="0.32">40</text>
<line x1="493.20" y1="265.18" x2="496.20" y2="265.18" stroke="#1a1a1a" stroke-width="1.2"/>
<text x="492.20" y="267.85" font-size="7.6000000000000005" font-weight="normal" font-style="normal" text-anchor="end" fill="#111" stroke="#111" stroke-width="0.32">60</text>
<line x1="493.20" y1="243.24" x2="496.20" y2="243.24" stroke="#1a1a1a" stroke-width="1.2"/>
<text x="492.20" y="245.91" font-size="7.6000000000000005" font-weight="normal" font-style="normal" text-anchor="end" fill="#111" stroke="#111" stroke-width="0.32">80</text>
<line x1="493.20" y1="221.30" x2="496.20" y2="221.30" stroke="#1a1a1a" stroke-width="1.2"/>
<text x="492.20" y="223.97" font-size="7.6000000000000005" font-weight="normal" font-style="normal" text-anchor="end" fill="#111" stroke="#111" stroke-width="0.32">100</text>
<line x1="493.20" y1="331.00" x2="605.70" y2="331.00" stroke="#1a1a1a" stroke-width="1.5"/>
<line x1="504.10" y1="331.00" x2="504.10" y2="334.20" stroke="#1a1a1a" stroke-width="1.2"/>
<line x1="504.10" y1="321.68" x2="504.10" y2="325.51" stroke="#333" stroke-width="0.9"/>
<line x1="502.10" y1="321.68" x2="506.10" y2="321.68" stroke="#333" stroke-width="1.0"/>
<rect x="500.50" y="325.51" width="7.20" height="5.49" fill="#fff" stroke="#111" stroke-width="1.1"/>
<text transform="translate(505.90,340.70) rotate(-45)" font-size="7.3" font-weight="bold" text-anchor="end" fill="#111" stroke="#111" stroke-width="0.2">GW11</text>
<line x1="515.86" y1="331.00" x2="515.86" y2="334.20" stroke="#1a1a1a" stroke-width="1.2"/>
<line x1="515.86" y1="330.45" x2="515.86" y2="330.67" stroke="#333" stroke-width="0.9"/>
<line x1="513.86" y1="330.45" x2="517.86" y2="330.45" stroke="#333" stroke-width="1.0"/>
<rect x="512.26" y="330.67" width="7.20" height="0.33" fill="#fff" stroke="#111" stroke-width="1.1"/>
<text transform="translate(517.66,340.70) rotate(-45)" font-size="7.3" font-weight="bold" text-anchor="end" fill="#111" stroke="#111" stroke-width="0.2">GW12</text>
<line x1="527.62" y1="331.00" x2="527.62" y2="334.20" stroke="#1a1a1a" stroke-width="1.2"/>
<line x1="527.62" y1="329.90" x2="527.62" y2="330.34" stroke="#333" stroke-width="0.9"/>
<line x1="525.62" y1="329.90" x2="529.62" y2="329.90" stroke="#333" stroke-width="1.0"/>
<rect x="524.02" y="330.34" width="7.20" height="0.66" fill="#fff" stroke="#111" stroke-width="1.1"/>
<text transform="translate(529.42,340.70) rotate(-45)" font-size="7.3" font-weight="bold" text-anchor="end" fill="#111" stroke="#111" stroke-width="0.2">GW13</text>
<line x1="539.38" y1="331.00" x2="539.38" y2="334.20" stroke="#1a1a1a" stroke-width="1.2"/>
<line x1="539.38" y1="296.44" x2="539.38" y2="306.87" stroke="#333" stroke-width="0.9"/>
<line x1="537.38" y1="296.44" x2="541.38" y2="296.44" stroke="#333" stroke-width="1.0"/>
<rect x="535.78" y="306.87" width="7.20" height="24.13" fill="#fff" stroke="#111" stroke-width="1.1"/>
<text transform="translate(541.18,340.70) rotate(-45)" font-size="7.3" font-weight="bold" text-anchor="end" fill="#111" stroke="#111" stroke-width="0.2">GW14</text>
<line x1="551.14" y1="331.00" x2="551.14" y2="334.20" stroke="#1a1a1a" stroke-width="1.2"/>
<line x1="551.14" y1="319.59" x2="551.14" y2="323.65" stroke="#333" stroke-width="0.9"/>
<line x1="549.14" y1="319.59" x2="553.14" y2="319.59" stroke="#333" stroke-width="1.0"/>
<rect x="547.54" y="323.65" width="7.20" height="7.35" fill="#fff" stroke="#111" stroke-width="1.1"/>
<text transform="translate(552.94,340.70) rotate(-45)" font-size="7.3" font-weight="bold" text-anchor="end" fill="#111" stroke="#111" stroke-width="0.2">GW15</text>
<line x1="562.90" y1="331.00" x2="562.90" y2="334.20" stroke="#1a1a1a" stroke-width="1.2"/>
<line x1="562.90" y1="306.87" x2="562.90" y2="316.74" stroke="#333" stroke-width="0.9"/>
<line x1="560.90" y1="306.87" x2="564.90" y2="306.87" stroke="#333" stroke-width="1.0"/>
<rect x="559.30" y="316.74" width="7.20" height="14.26" fill="#fff" stroke="#111" stroke-width="1.1"/>
<text transform="translate(564.70,340.70) rotate(-45)" font-size="7.3" font-weight="bold" text-anchor="end" fill="#111" stroke="#111" stroke-width="0.2">GW16</text>
<line x1="574.66" y1="331.00" x2="574.66" y2="334.20" stroke="#1a1a1a" stroke-width="1.2"/>
<line x1="574.66" y1="324.64" x2="574.66" y2="327.05" stroke="#333" stroke-width="0.9"/>
<line x1="572.66" y1="324.64" x2="576.66" y2="324.64" stroke="#333" stroke-width="1.0"/>
<rect x="571.06" y="327.05" width="7.20" height="3.95" fill="#fff" stroke="#111" stroke-width="1.1"/>
<text transform="translate(576.46,340.70) rotate(-45)" font-size="7.3" font-weight="bold" text-anchor="end" fill="#111" stroke="#111" stroke-width="0.2">GW17</text>
<line x1="586.42" y1="331.00" x2="586.42" y2="334.20" stroke="#1a1a1a" stroke-width="1.2"/>
<line x1="586.42" y1="262.44" x2="586.42" y2="289.53" stroke="#333" stroke-width="0.9"/>
<line x1="584.42" y1="262.44" x2="588.42" y2="262.44" stroke="#333" stroke-width="1.0"/>
<rect x="582.82" y="289.53" width="7.20" height="41.47" fill="#fff" stroke="#111" stroke-width="1.1"/>
<text transform="translate(588.22,340.70) rotate(-45)" font-size="7.3" font-weight="bold" text-anchor="end" fill="#111" stroke="#111" stroke-width="0.2">GW18</text>
<line x1="598.18" y1="331.00" x2="598.18" y2="334.20" stroke="#1a1a1a" stroke-width="1.2"/>
<rect x="594.58" y="221.30" width="7.20" height="109.70" fill="#fff" stroke="#111" stroke-width="1.1"/>
<text transform="translate(599.98,340.70) rotate(-45)" font-size="7.3" font-weight="bold" text-anchor="end" fill="#111" stroke="#111" stroke-width="0.2">GW19</text>
<line x1="499.30" y1="220.50" x2="601.70" y2="220.50" stroke="#222" stroke-width="1.3"/>
<line x1="499.30" y1="217.60" x2="499.30" y2="223.40" stroke="#222" stroke-width="1.2"/>
<line x1="601.70" y1="217.60" x2="601.70" y2="223.40" stroke="#222" stroke-width="1.2"/>
<text x="551.80" y="219.67" font-size="8.7" font-weight="bold" font-style="normal" text-anchor="middle" fill="#111" letter-spacing="1.8" stroke="#111" stroke-width="0.6" stroke-linejoin="round">***</text>
<text x="551.48" y="208.50" font-size="7.8" font-weight="bold" font-style="italic" text-anchor="middle" fill="#111" letter-spacing="-0.15">GUSB</text>
<text transform="translate(476.90,283.90) rotate(-90)" font-size="7.2" font-weight="bold" fill="#111">2<tspan font-size="5.8" dy="-2.0" font-weight="bold"> −ΔCt</tspan></text>
<line x1="642.30" y1="226.90" x2="642.30" y2="333.00" stroke="#2a2a2a" stroke-width="1.45"/>
<line x1="639.30" y1="332.40" x2="642.30" y2="332.40" stroke="#1a1a1a" stroke-width="1.2"/>
<text x="638.30" y="335.00" font-size="7.4" font-weight="bold" font-style="normal" text-anchor="end" fill="#111" stroke="#111" stroke-width="0.15">0</text>
<line x1="639.30" y1="311.42" x2="642.30" y2="311.42" stroke="#1a1a1a" stroke-width="1.2"/>
<text x="638.30" y="314.02" font-size="7.4" font-weight="bold" font-style="normal" text-anchor="end" fill="#111" stroke="#111" stroke-width="0.15">20</text>
<line x1="639.30" y1="290.44" x2="642.30" y2="290.44" stroke="#1a1a1a" stroke-width="1.2"/>
<text x="638.30" y="293.04" font-size="7.4" font-weight="bold" font-style="normal" text-anchor="end" fill="#111" stroke="#111" stroke-width="0.15">40</text>
<line x1="639.30" y1="269.46" x2="642.30" y2="269.46" stroke="#1a1a1a" stroke-width="1.2"/>
<text x="638.30" y="272.06" font-size="7.4" font-weight="bold" font-style="normal" text-anchor="end" fill="#111" stroke="#111" stroke-width="0.15">60</text>
<line x1="639.30" y1="248.48" x2="642.30" y2="248.48" stroke="#1a1a1a" stroke-width="1.2"/>
<text x="638.30" y="251.08" font-size="7.4" font-weight="bold" font-style="normal" text-anchor="end" fill="#111" stroke="#111" stroke-width="0.15">80</text>
<line x1="639.30" y1="227.50" x2="642.30" y2="227.50" stroke="#1a1a1a" stroke-width="1.2"/>
<text x="638.30" y="230.10" font-size="7.4" font-weight="bold" font-style="normal" text-anchor="end" fill="#111" stroke="#111" stroke-width="0.15">100</text>
<line x1="639.30" y1="332.40" x2="747.80" y2="332.40" stroke="#1a1a1a" stroke-width="1.5"/>
<line x1="650.10" y1="332.40" x2="650.10" y2="335.60" stroke="#1a1a1a" stroke-width="1.2"/>
<line x1="650.10" y1="318.13" x2="650.10" y2="323.27" stroke="#333" stroke-width="0.9"/>
<line x1="648.10" y1="318.13" x2="652.10" y2="318.13" stroke="#333" stroke-width="1.0"/>
<rect x="646.50" y="323.27" width="7.20" height="9.13" fill="#fff" stroke="#111" stroke-width="1.1"/>
<text transform="translate(651.90,342.10) rotate(-45)" font-size="7.3" font-weight="bold" text-anchor="end" fill="#111" stroke="#111" stroke-width="0.2">GW11</text>
<line x1="661.36" y1="332.40" x2="661.36" y2="335.60" stroke="#1a1a1a" stroke-width="1.2"/>
<line x1="661.36" y1="330.62" x2="661.36" y2="331.35" stroke="#333" stroke-width="0.9"/>
<line x1="659.36" y1="330.62" x2="663.36" y2="330.62" stroke="#333" stroke-width="1.0"/>
<rect x="657.76" y="331.35" width="7.20" height="1.05" fill="#fff" stroke="#111" stroke-width="1.1"/>
<text transform="translate(663.16,342.10) rotate(-45)" font-size="7.3" font-weight="bold" text-anchor="end" fill="#111" stroke="#111" stroke-width="0.2">GW12</text>
<line x1="672.62" y1="332.40" x2="672.62" y2="335.60" stroke="#1a1a1a" stroke-width="1.2"/>
<line x1="672.62" y1="331.88" x2="672.62" y2="332.09" stroke="#333" stroke-width="0.9"/>
<line x1="670.62" y1="331.88" x2="674.62" y2="331.88" stroke="#333" stroke-width="1.0"/>
<rect x="669.02" y="332.09" width="7.20" height="0.31" fill="#fff" stroke="#111" stroke-width="1.1"/>
<text transform="translate(674.42,342.10) rotate(-45)" font-size="7.3" font-weight="bold" text-anchor="end" fill="#111" stroke="#111" stroke-width="0.2">GW13</text>
<line x1="683.88" y1="332.40" x2="683.88" y2="335.60" stroke="#1a1a1a" stroke-width="1.2"/>
<line x1="683.88" y1="293.59" x2="683.88" y2="304.08" stroke="#333" stroke-width="0.9"/>
<line x1="681.88" y1="293.59" x2="685.88" y2="293.59" stroke="#333" stroke-width="1.0"/>
<rect x="680.28" y="304.08" width="7.20" height="28.32" fill="#fff" stroke="#111" stroke-width="1.1"/>
<text transform="translate(685.68,342.10) rotate(-45)" font-size="7.3" font-weight="bold" text-anchor="end" fill="#111" stroke="#111" stroke-width="0.2">GW14</text>
<line x1="695.14" y1="332.40" x2="695.14" y2="335.60" stroke="#1a1a1a" stroke-width="1.2"/>
<line x1="695.14" y1="320.65" x2="695.14" y2="324.32" stroke="#333" stroke-width="0.9"/>
<line x1="693.14" y1="320.65" x2="697.14" y2="320.65" stroke="#333" stroke-width="1.0"/>
<rect x="691.54" y="324.32" width="7.20" height="8.08" fill="#fff" stroke="#111" stroke-width="1.1"/>
<text transform="translate(696.94,342.10) rotate(-45)" font-size="7.3" font-weight="bold" text-anchor="end" fill="#111" stroke="#111" stroke-width="0.2">GW15</text>
<line x1="706.40" y1="332.40" x2="706.40" y2="335.60" stroke="#1a1a1a" stroke-width="1.2"/>
<line x1="706.40" y1="326.21" x2="706.40" y2="329.25" stroke="#333" stroke-width="0.9"/>
<line x1="704.40" y1="326.21" x2="708.40" y2="326.21" stroke="#333" stroke-width="1.0"/>
<rect x="702.80" y="329.25" width="7.20" height="3.15" fill="#fff" stroke="#111" stroke-width="1.1"/>
<text transform="translate(708.20,342.10) rotate(-45)" font-size="7.3" font-weight="bold" text-anchor="end" fill="#111" stroke="#111" stroke-width="0.2">GW16</text>
<line x1="717.66" y1="332.40" x2="717.66" y2="335.60" stroke="#1a1a1a" stroke-width="1.2"/>
<line x1="717.66" y1="320.65" x2="717.66" y2="324.53" stroke="#333" stroke-width="0.9"/>
<line x1="715.66" y1="320.65" x2="719.66" y2="320.65" stroke="#333" stroke-width="1.0"/>
<rect x="714.06" y="324.53" width="7.20" height="7.87" fill="#fff" stroke="#111" stroke-width="1.1"/>
<text transform="translate(719.46,342.10) rotate(-45)" font-size="7.3" font-weight="bold" text-anchor="end" fill="#111" stroke="#111" stroke-width="0.2">GW17</text>
<line x1="728.92" y1="332.40" x2="728.92" y2="335.60" stroke="#1a1a1a" stroke-width="1.2"/>
<line x1="728.92" y1="271.56" x2="728.92" y2="295.06" stroke="#333" stroke-width="0.9"/>
<line x1="726.92" y1="271.56" x2="730.92" y2="271.56" stroke="#333" stroke-width="1.0"/>
<rect x="725.32" y="295.06" width="7.20" height="37.34" fill="#fff" stroke="#111" stroke-width="1.1"/>
<text transform="translate(730.72,342.10) rotate(-45)" font-size="7.3" font-weight="bold" text-anchor="end" fill="#111" stroke="#111" stroke-width="0.2">GW18</text>
<line x1="740.18" y1="332.40" x2="740.18" y2="335.60" stroke="#1a1a1a" stroke-width="1.2"/>
<rect x="736.58" y="227.50" width="7.20" height="104.90" fill="#fff" stroke="#111" stroke-width="1.1"/>
<text transform="translate(741.98,342.10) rotate(-45)" font-size="7.3" font-weight="bold" text-anchor="end" fill="#111" stroke="#111" stroke-width="0.2">GW19</text>
<line x1="647.00" y1="227.60" x2="743.40" y2="227.60" stroke="#222" stroke-width="1.3"/>
<line x1="647.00" y1="224.70" x2="647.00" y2="230.50" stroke="#222" stroke-width="1.2"/>
<line x1="743.40" y1="224.70" x2="743.40" y2="230.50" stroke="#222" stroke-width="1.2"/>
<text x="696.30" y="225.97" font-size="8.7" font-weight="bold" font-style="normal" text-anchor="middle" fill="#111" letter-spacing="1.8" stroke="#111" stroke-width="0.6" stroke-linejoin="round">***</text>
<text x="695.28" y="215.00" font-size="7.8" font-weight="bold" font-style="italic" text-anchor="middle" fill="#111" letter-spacing="-0.15">HPRT1</text>
<text transform="translate(623.90,287.80) rotate(-90)" font-size="7.2" font-weight="bold" fill="#111">2<tspan font-size="5.8" dy="-2.0" font-weight="bold"> −ΔCt</tspan></text>
<line x1="36.90" y1="39.00" x2="36.90" y2="138.90" stroke="#2a2a2a" stroke-width="1.45"/>
<line x1="33.90" y1="138.30" x2="36.90" y2="138.30" stroke="#1a1a1a" stroke-width="1.2"/>
<text x="33.30" y="140.72" font-size="6.9" font-weight="bold" font-style="normal" text-anchor="end" fill="#111" stroke="#111" stroke-width="0.15">0.0</text>
<line x1="33.90" y1="125.96" x2="36.90" y2="125.96" stroke="#1a1a1a" stroke-width="1.2"/>
<text x="33.30" y="128.39" font-size="6.9" font-weight="bold" font-style="normal" text-anchor="end" fill="#111" stroke="#111" stroke-width="0.15">0.5</text>
<line x1="33.90" y1="113.62" x2="36.90" y2="113.62" stroke="#1a1a1a" stroke-width="1.2"/>
<text x="33.30" y="116.05" font-size="6.9" font-weight="bold" font-style="normal" text-anchor="end" fill="#111" stroke="#111" stroke-width="0.15">1.0</text>
<line x1="33.90" y1="101.29" x2="36.90" y2="101.29" stroke="#1a1a1a" stroke-width="1.2"/>
<text x="33.30" y="103.71" font-size="6.9" font-weight="bold" font-style="normal" text-anchor="end" fill="#111" stroke="#111" stroke-width="0.15">1.5</text>
<line x1="33.90" y1="88.95" x2="36.90" y2="88.95" stroke="#1a1a1a" stroke-width="1.2"/>
<text x="33.30" y="91.37" font-size="6.9" font-weight="bold" font-style="normal" text-anchor="end" fill="#111" stroke="#111" stroke-width="0.15">2.0</text>
<line x1="33.90" y1="76.61" x2="36.90" y2="76.61" stroke="#1a1a1a" stroke-width="1.2"/>
<text x="33.30" y="79.04" font-size="6.9" font-weight="bold" font-style="normal" text-anchor="end" fill="#111" stroke="#111" stroke-width="0.15">2.5</text>
<line x1="33.90" y1="64.28" x2="36.90" y2="64.28" stroke="#1a1a1a" stroke-width="1.2"/>
<text x="33.30" y="66.70" font-size="6.9" font-weight="bold" font-style="normal" text-anchor="end" fill="#111" stroke="#111" stroke-width="0.15">3.0</text>
<line x1="33.90" y1="51.94" x2="36.90" y2="51.94" stroke="#1a1a1a" stroke-width="1.2"/>
<text x="33.30" y="54.36" font-size="6.9" font-weight="bold" font-style="normal" text-anchor="end" fill="#111" stroke="#111" stroke-width="0.15">3.5</text>
<line x1="33.90" y1="39.60" x2="36.90" y2="39.60" stroke="#1a1a1a" stroke-width="1.2"/>
<text x="33.30" y="42.02" font-size="6.9" font-weight="bold" font-style="normal" text-anchor="end" fill="#111" stroke="#111" stroke-width="0.15">4.0</text>
<line x1="33.90" y1="138.30" x2="136.30" y2="138.30" stroke="#1a1a1a" stroke-width="1.5"/>
<line x1="52.30" y1="138.30" x2="52.30" y2="141.50" stroke="#1a1a1a" stroke-width="1.0"/>
<text transform="translate(54.60,146.70) rotate(-45)" font-size="7.1" font-weight="bold" text-anchor="end" fill="#111" stroke="#111" stroke-width="0.2">B2M</text>
<line x1="75.00" y1="138.30" x2="75.00" y2="141.50" stroke="#1a1a1a" stroke-width="1.0"/>
<text transform="translate(77.30,146.70) rotate(-45)" font-size="7.1" font-weight="bold" text-anchor="end" fill="#111" stroke="#111" stroke-width="0.2">GAPDH</text>
<line x1="98.00" y1="138.30" x2="98.00" y2="141.50" stroke="#1a1a1a" stroke-width="1.0"/>
<line x1="98.00" y1="129.17" x2="98.00" y2="133.37" stroke="#333" stroke-width="1.0"/>
<line x1="94.60" y1="129.17" x2="101.40" y2="129.17" stroke="#333" stroke-width="1.1"/>
<rect x="90.90" y="133.37" width="14.20" height="4.94" fill="#c8c8c8" stroke="#111" stroke-width="1.1"/>
<text transform="translate(100.30,146.70) rotate(-45)" font-size="7.1" font-weight="bold" text-anchor="end" fill="#111" stroke="#111" stroke-width="0.2">GUSB</text>
<line x1="120.50" y1="138.30" x2="120.50" y2="141.50" stroke="#1a1a1a" stroke-width="1.0"/>
<line x1="120.50" y1="127.20" x2="120.50" y2="132.13" stroke="#333" stroke-width="1.0"/>
<line x1="117.10" y1="127.20" x2="123.90" y2="127.20" stroke="#333" stroke-width="1.1"/>
<rect x="113.40" y="132.13" width="14.20" height="6.17" fill="#7c7c7c" stroke="#111" stroke-width="1.1"/>
<text transform="translate(122.80,146.70) rotate(-45)" font-size="7.1" font-weight="bold" text-anchor="end" fill="#111" stroke="#111" stroke-width="0.2">HPRT1</text>
<path d="M52.50,100.50 L52.50,74.50 L120.50,74.50 L120.50,85.50" fill="none" stroke="#5a5a5a" stroke-width="1.0"/>
<path d="M75.50,93.50 L75.50,89.50 L120.50,89.50 L120.50,115.50" fill="none" stroke="#5a5a5a" stroke-width="1.0"/>
<path d="M52.50,116.50 L52.50,104.50 L97.50,104.50 L97.50,115.50" fill="none" stroke="#5a5a5a" stroke-width="1.0"/>
<path d="M52.50,134.50 L52.50,120.50 L73.50,120.50 L73.50,134.80" fill="none" stroke="#5a5a5a" stroke-width="1.0"/>
<path d="M76.50,134.80 L76.50,120.50 L96.50,120.50 L96.50,125.70" fill="none" stroke="#5a5a5a" stroke-width="1.0"/>
<path d="M99.50,125.70 L99.50,120.50 L120.50,120.50 L120.50,123.40" fill="none" stroke="#5a5a5a" stroke-width="1.0"/>
<text x="63.00" y="117.60" font-size="6.4" font-weight="normal" font-style="normal" text-anchor="middle" fill="#222" stroke="#222" stroke-width="0.12">ns</text>
<text x="110.00" y="117.60" font-size="6.4" font-weight="normal" font-style="normal" text-anchor="middle" fill="#222" stroke="#222" stroke-width="0.12">ns</text>
<text x="87.55" y="74.52" font-size="10.0" font-weight="bold" font-style="normal" text-anchor="middle" fill="#111" letter-spacing="1.9" stroke="#111" stroke-width="0.7" stroke-linejoin="round">**</text>
<text x="99.05" y="89.52" font-size="10.0" font-weight="bold" font-style="normal" text-anchor="middle" fill="#111" letter-spacing="1.9" stroke="#111" stroke-width="0.7" stroke-linejoin="round">**</text>
<text x="76.45" y="104.92" font-size="10.0" font-weight="bold" font-style="normal" text-anchor="middle" fill="#111" letter-spacing="1.9" stroke="#111" stroke-width="0.7" stroke-linejoin="round">**</text>
<text x="87.65" y="120.02" font-size="10.0" font-weight="bold" font-style="normal" text-anchor="middle" fill="#111" letter-spacing="1.9" stroke="#111" stroke-width="0.7" stroke-linejoin="round">**</text>
<text x="86.50" y="29.00" font-size="6.8" font-weight="bold" font-style="normal" text-anchor="middle" fill="#111" >Normalized OTOF</text>
<text transform="translate(22.20,96.00) rotate(-90)" font-size="7.2" font-weight="bold" fill="#111">2<tspan font-size="5.8" dy="-2.0" font-weight="bold"> −ΔCt</tspan></text>
<line x1="37.60" y1="235.70" x2="37.60" y2="336.80" stroke="#2a2a2a" stroke-width="1.45"/>
<line x1="34.60" y1="336.20" x2="37.60" y2="336.20" stroke="#1a1a1a" stroke-width="1.2"/>
<text x="34.00" y="338.62" font-size="6.9" font-weight="bold" font-style="normal" text-anchor="end" fill="#111" stroke="#111" stroke-width="0.15">0.0</text>
<line x1="34.60" y1="323.71" x2="37.60" y2="323.71" stroke="#1a1a1a" stroke-width="1.2"/>
<text x="34.00" y="326.14" font-size="6.9" font-weight="bold" font-style="normal" text-anchor="end" fill="#111" stroke="#111" stroke-width="0.15">0.5</text>
<line x1="34.60" y1="311.23" x2="37.60" y2="311.23" stroke="#1a1a1a" stroke-width="1.2"/>
<text x="34.00" y="313.65" font-size="6.9" font-weight="bold" font-style="normal" text-anchor="end" fill="#111" stroke="#111" stroke-width="0.15">1.0</text>
<line x1="34.60" y1="298.74" x2="37.60" y2="298.74" stroke="#1a1a1a" stroke-width="1.2"/>
<text x="34.00" y="301.16" font-size="6.9" font-weight="bold" font-style="normal" text-anchor="end" fill="#111" stroke="#111" stroke-width="0.15">1.5</text>
<line x1="34.60" y1="286.25" x2="37.60" y2="286.25" stroke="#1a1a1a" stroke-width="1.2"/>
<text x="34.00" y="288.67" font-size="6.9" font-weight="bold" font-style="normal" text-anchor="end" fill="#111" stroke="#111" stroke-width="0.15">2.0</text>
<line x1="34.60" y1="273.76" x2="37.60" y2="273.76" stroke="#1a1a1a" stroke-width="1.2"/>
<text x="34.00" y="276.19" font-size="6.9" font-weight="bold" font-style="normal" text-anchor="end" fill="#111" stroke="#111" stroke-width="0.15">2.5</text>
<line x1="34.60" y1="261.27" x2="37.60" y2="261.27" stroke="#1a1a1a" stroke-width="1.2"/>
<text x="34.00" y="263.70" font-size="6.9" font-weight="bold" font-style="normal" text-anchor="end" fill="#111" stroke="#111" stroke-width="0.15">3.0</text>
<line x1="34.60" y1="248.79" x2="37.60" y2="248.79" stroke="#1a1a1a" stroke-width="1.2"/>
<text x="34.00" y="251.21" font-size="6.9" font-weight="bold" font-style="normal" text-anchor="end" fill="#111" stroke="#111" stroke-width="0.15">3.5</text>
<line x1="34.60" y1="236.30" x2="37.60" y2="236.30" stroke="#1a1a1a" stroke-width="1.2"/>
<text x="34.00" y="238.72" font-size="6.9" font-weight="bold" font-style="normal" text-anchor="end" fill="#111" stroke="#111" stroke-width="0.15">4.0</text>
<line x1="34.60" y1="336.20" x2="138.00" y2="336.20" stroke="#1a1a1a" stroke-width="1.5"/>
<line x1="53.20" y1="336.20" x2="53.20" y2="339.40" stroke="#1a1a1a" stroke-width="1.0"/>
<line x1="53.20" y1="334.20" x2="53.20" y2="335.95" stroke="#333" stroke-width="1.0"/>
<line x1="49.80" y1="334.20" x2="56.60" y2="334.20" stroke="#333" stroke-width="1.1"/>
<rect x="46.10" y="335.95" width="14.20" height="0.25" fill="#fff" stroke="#111" stroke-width="1.1"/>
<text transform="translate(55.50,344.60) rotate(-45)" font-size="7.1" font-weight="bold" text-anchor="end" fill="#111" stroke="#111" stroke-width="0.2">B2M</text>
<line x1="76.20" y1="336.20" x2="76.20" y2="339.40" stroke="#1a1a1a" stroke-width="1.0"/>
<text transform="translate(78.50,344.60) rotate(-45)" font-size="7.1" font-weight="bold" text-anchor="end" fill="#111" stroke="#111" stroke-width="0.2">GAPDH</text>
<line x1="99.50" y1="336.20" x2="99.50" y2="339.40" stroke="#1a1a1a" stroke-width="1.0"/>
<line x1="99.50" y1="298.49" x2="99.50" y2="314.72" stroke="#333" stroke-width="1.0"/>
<line x1="96.10" y1="298.49" x2="102.90" y2="298.49" stroke="#333" stroke-width="1.1"/>
<rect x="92.40" y="314.72" width="14.20" height="21.48" fill="#cbcbcb" stroke="#111" stroke-width="1.1"/>
<text transform="translate(101.80,344.60) rotate(-45)" font-size="7.1" font-weight="bold" text-anchor="end" fill="#111" stroke="#111" stroke-width="0.2">GUSB</text>
<line x1="122.40" y1="336.20" x2="122.40" y2="339.40" stroke="#1a1a1a" stroke-width="1.0"/>
<line x1="122.40" y1="274.26" x2="122.40" y2="308.48" stroke="#333" stroke-width="1.0"/>
<line x1="119.00" y1="274.26" x2="125.80" y2="274.26" stroke="#333" stroke-width="1.1"/>
<rect x="115.30" y="308.48" width="14.20" height="27.72" fill="#7a7a7a" stroke="#111" stroke-width="1.1"/>
<text transform="translate(124.70,344.60) rotate(-45)" font-size="7.1" font-weight="bold" text-anchor="end" fill="#111" stroke="#111" stroke-width="0.2">HPRT1</text>
<path d="M53.20,248.60 L53.20,221.20 L122.50,221.20 L122.50,231.70" fill="none" stroke="#5a5a5a" stroke-width="1.0"/>
<path d="M76.10,239.60 L76.10,236.30 L122.50,236.30 L122.50,263.30" fill="none" stroke="#5a5a5a" stroke-width="1.0"/>
<path d="M53.20,263.40 L53.20,251.50 L99.50,251.50 L99.50,263.70" fill="none" stroke="#5a5a5a" stroke-width="1.0"/>
<path d="M53.20,330.80 L53.20,267.40 L74.90,267.40 L74.90,331.70" fill="none" stroke="#5a5a5a" stroke-width="1.0"/>
<path d="M77.50,331.70 L77.50,267.40 L98.00,267.40 L98.00,295.40" fill="none" stroke="#5a5a5a" stroke-width="1.0"/>
<path d="M100.30,295.40 L100.30,267.40 L122.40,267.40 L122.40,270.00" fill="none" stroke="#5a5a5a" stroke-width="1.0"/>
<text x="87.80" y="218.40" font-size="6.4" font-weight="normal" font-style="normal" text-anchor="middle" fill="#222" stroke="#222" stroke-width="0.12">ns</text>
<text x="99.20" y="233.30" font-size="6.4" font-weight="normal" font-style="normal" text-anchor="middle" fill="#222" stroke="#222" stroke-width="0.12">ns</text>
<text x="64.00" y="263.60" font-size="6.4" font-weight="normal" font-style="normal" text-anchor="middle" fill="#222" stroke="#222" stroke-width="0.12">ns</text>
<text x="111.50" y="263.60" font-size="6.4" font-weight="normal" font-style="normal" text-anchor="middle" fill="#222" stroke="#222" stroke-width="0.12">ns</text>
<text x="77.25" y="251.82" font-size="10.0" font-weight="bold" font-style="normal" text-anchor="middle" fill="#111" letter-spacing="1.9" stroke="#111" stroke-width="0.7" stroke-linejoin="round">*</text>
<text x="88.45" y="266.92" font-size="10.0" font-weight="bold" font-style="normal" text-anchor="middle" fill="#111" letter-spacing="1.9" stroke="#111" stroke-width="0.7" stroke-linejoin="round">*</text>
<text x="87.40" y="208.70" font-size="6.95" font-weight="bold" font-style="normal" text-anchor="middle" fill="#111" >Normalized TECTA</text>
<text transform="translate(21.70,293.90) rotate(-90)" font-size="7.2" font-weight="bold" fill="#111">2<tspan font-size="5.8" dy="-2.0" font-weight="bold"> −ΔCt</tspan></text>
</svg>
</body></html>
